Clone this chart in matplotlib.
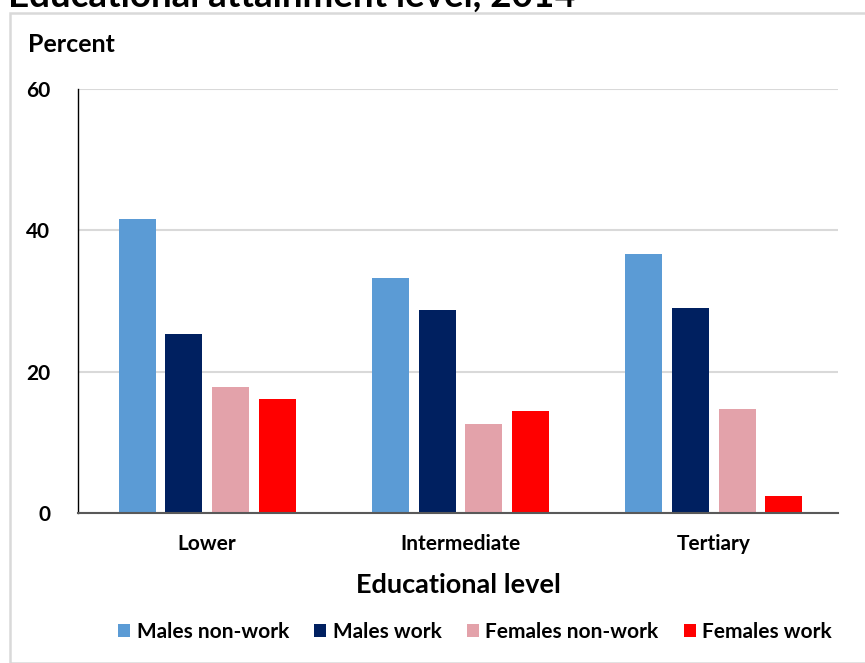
import matplotlib
matplotlib.use("Agg")
import matplotlib.pyplot as plt
from matplotlib.patches import Rectangle
import numpy as np

categories = ["Lower", "Intermediate", "Tertiary"]
series_names = ["Males non-work", "Males work", "Females non-work", "Females work"]
males_nonwork = [41.6, 33.2, 36.6]
males_work = [25.4, 28.7, 29.0]
females_nonwork = [17.8, 12.6, 14.7]
females_work = [16.1, 14.4, 2.4]
colors = ["#5b9bd5", "#002060", "#e3a2aa", "#ff0000"]
yticks = [0, 20, 40, 60]

plt.rcParams['font.family'] = ['Lato', 'DejaVu Sans']

W, H = 865, 663
fig = plt.figure(figsize=(W/100, H/100), dpi=100)

# outer border
fig.patches.append(Rectangle((10/W, 0), 1.2, (H-13)/H, transform=fig.transFigure,
                             fill=False, edgecolor="#d9d9d9", linewidth=1.8))

ax = fig.add_axes([78/W, 1-513/H, (838-78)/W, (513-89)/H])
x = np.arange(len(categories))
step = 0.1845
width = 0.146
data = [males_nonwork, males_work, females_nonwork, females_work]
for i, (vals, name, c) in enumerate(zip(data, series_names, colors)):
    ax.bar(x + 0.01 + (i-1.5)*step, vals, width=width, color=c, label=name, zorder=3)

ax.set_xlim(-0.5, 2.5)
ax.set_ylim(0, 60)
ax.set_yticks(yticks)
ax.set_yticklabels([str(v) for v in yticks], fontsize=15, fontweight='bold')
ax.set_xticks(x + 0.01)
ax.set_xticklabels(categories, fontsize=15, fontweight='bold')
ax.tick_params(axis='both', length=0)
ax.tick_params(axis='y', pad=20)
ax.tick_params(axis='x', pad=15)
ax.grid(axis='y', color="#d9d9d9", linewidth=1.5, zorder=0)
for s in ["top", "right"]:
    ax.spines[s].set_visible(False)
ax.spines["left"].set_color("black")
ax.spines["left"].set_linewidth(1.0)
ax.spines["bottom"].set_color("#595959")
ax.spines["bottom"].set_linewidth(1.5)
ax.spines["bottom"].set_zorder(4)

ax.set_xlabel("Educational level", fontsize=19.5, fontweight='bold', labelpad=14)

fig.text(28/W, 1-44/H, "Percent", fontsize=18, fontweight='bold', va='center', ha='left')
fig.text(8/W, 1-7/H, "Educational attainment level, 2014", fontsize=26.5, fontweight='bold',
         va='baseline', ha='left')

leg = fig.legend(loc='center', bbox_to_anchor=(475/W, 1-632/H), ncol=4, frameon=False,
                 prop={'size': 15, 'weight': 'bold'}, handlelength=0.6, handleheight=0.6,
                 handletextpad=0.3, columnspacing=1.2)

fig.savefig("out.png", dpi=100)
